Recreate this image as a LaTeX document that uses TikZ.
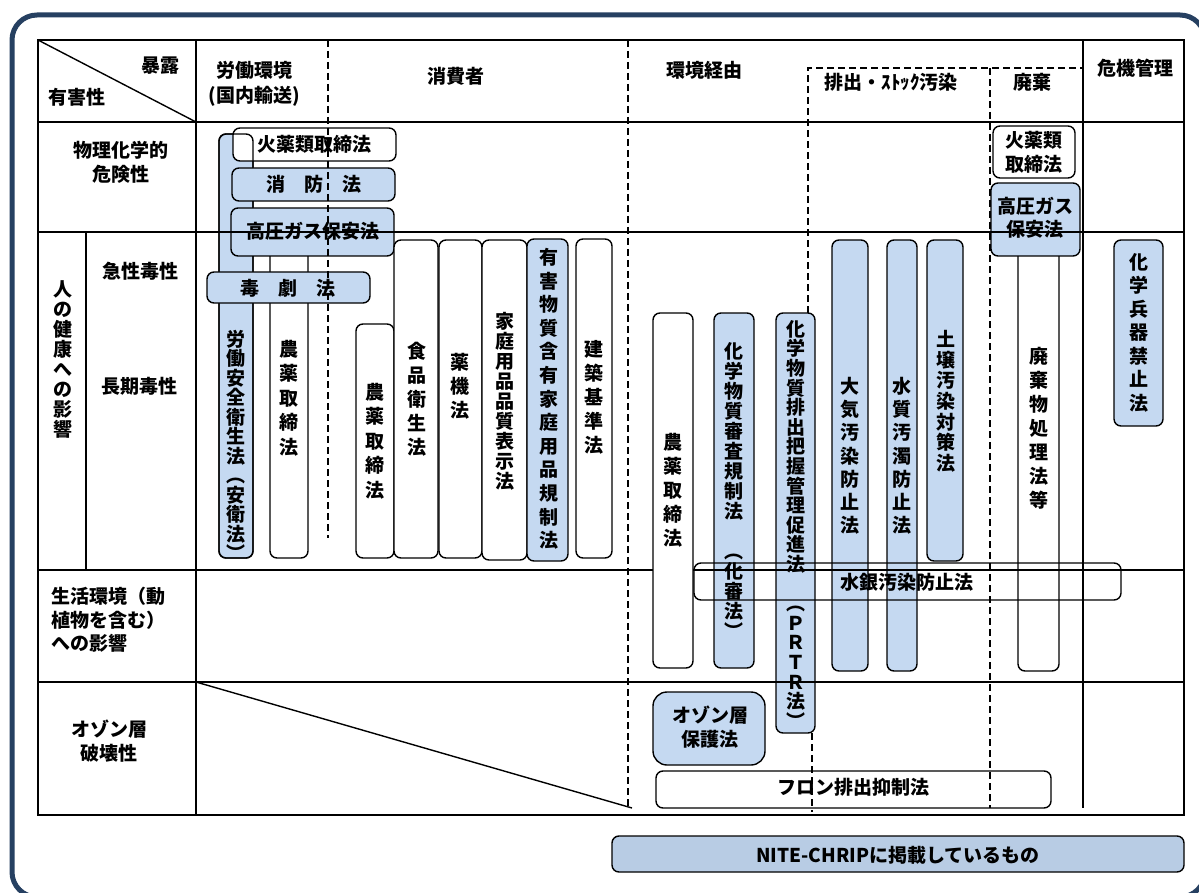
\documentclass[tikz,border=0pt]{standalone}
\usepackage{fontspec}
\setmainfont{Noto Sans CJK JP}
\definecolor{lawblue}{RGB}{197,217,241}
\definecolor{legendblue}{RGB}{184,204,228}
\definecolor{framecol}{RGB}{38,64,97}
\newcommand{\vsetup}[1]{\fontsize{19}{#1}\selectfont\bfseries\lineskiplimit=-30pt\relax\lineskip=0pt\relax}
\begin{document}
\begin{tikzpicture}[x=1pt,y=-1pt,
  every node/.style={font=\fontsize{19}{23}\selectfont\bfseries, inner sep=0pt},
  vt/.style={align=center, anchor=north, font=\vsetup{#1}},
  box/.style={draw=black, line width=1.4pt, rounded corners=7pt, fill=white},
  bbox/.style={box, fill=lawblue},
  outl/.style={draw=black, line width=1.4pt, rounded corners=7pt},
  grid/.style={line width=1.4pt},
  dline/.style={line width=1.3pt, dash pattern=on 7pt off 4pt},
]
\useasboundingbox (0,0) rectangle (1199,893);
\clip (0,0) rectangle (1199,893);
\fill[white] (0,0) rectangle (1199,893);
% frame
\draw[line width=5pt, framecol, rounded corners=25pt] (12,15) rectangle (1205,897);

% ---- labour boxes
\draw[bbox] (219,134) rectangle (253,558);
\draw[box] (270,240) rectangle (308,558);
\draw[box] (233,128) rectangle (396,161);
\draw[outl] (219,134) rectangle (253,558);
\draw[bbox] (232,168) rectangle (395,201);
\draw[bbox] (231,208) rectangle (394,256);
\draw[bbox] (207,272) rectangle (370,303);

% ---- consumer boxes
\draw[box] (356,324) rectangle (394,558);
\draw[box] (394,240) rectangle (438,558);
\draw[box] (439,240) rectangle (482,558);
\draw[box] (482,240) rectangle (527,560);
\draw[bbox] (527,239) rectangle (568,561);
\draw[box] (576,239) rectangle (612,558);

% ---- environment boxes
\draw[box] (653,313) rectangle (693,668);
\fill[white, rounded corners=7pt] (694,563) rectangle (1121,600);
\draw[bbox] (714,313) rectangle (754,668);
\draw[bbox] (776,313) rectangle (815,733);
\draw[bbox] (832,240) rectangle (868,671);
\draw[bbox] (887,240) rectangle (917,671);
\draw[bbox] (927,240) rectangle (963,561);

% ---- waste / crisis boxes
\draw[box] (1018,245) rectangle (1059,671);
\draw[box] (993,126) rectangle (1075,178);
\draw[bbox] (991,183) rectangle (1080,256);
\draw[bbox] (1114,240) rectangle (1163,426);

% ---- ozone boxes
\draw[bbox, rounded corners=14pt] (653,692) rectangle (765,765);
\draw[box] (656,771) rectangle (1051,808);

% ---- legend
\draw[box, fill=legendblue] (612,836) rectangle (1184,872);

% ---- grid
\draw[grid] (38,40) rectangle (1184,815);
\draw[grid] (38,122) -- (1184,122);
\draw[grid] (38,232) -- (1184,232);
\draw[grid] (38,570) -- (653,570) (693,570) -- (1184,570);
\draw[grid] (38,682) -- (1184,682);
\draw[grid] (196,40) -- (196,815);
\draw[grid] (86,232) -- (86,570);
\draw[grid] (1083,40) -- (1083,808);
\draw[grid] (38,40) -- (196,122);
\draw[grid] (196,682) -- (632,808);
\draw[dline] (328,40) -- (328,538);
\draw[dline] (628,40) -- (628,808);
\draw[dline] (808,313) -- (808,68) -- (1082,68);
\draw[dline] (812,733) -- (812,812);
\draw[dline] (990,68) -- (990,808);

% mercury box outline on top
\draw[outl] (694,563) rectangle (1121,600);

% ---- header texts
\node (hBakuro) at (160,66) {暴露};
\node (hYugai) at (77,97) {有害性};
\node (hRoudouA) at (254,70) {労働環境};
\node (hRoudouB) at (254,96) {(国内輸送)};
\node (hShouhi) at (456,76) {消費者};
\node (hKankyo) at (704,70) {環境経由};
\node (hHaishutsu) at (891,82) {排出・ｽﾄｯｸ汚染};
\node (hHaiki) at (1032,82) {廃棄};
\node (hKiki) at (1135,68) {危機管理};

% ---- row header texts
\node (rButsuriA) at (121,150) {物理化学的};
\node (rButsuriB) at (121,174) {危険性};
\node[vt=20] (rHito) at (63,280) {人\\の\\健\\康\\へ\\の\\影\\響};
\node (rKyusei) at (140,271) {急性毒性};
\node (rChoki) at (139,386) {長期毒性};
\node[anchor=west] (rSeikatsuA) at (51,596) {生活環境（動};
\node[anchor=west] (rSeikatsuB) at (51,620) {植物を含む）};
\node[anchor=west] (rSeikatsuC) at (51,643) {への影響};
\node (rOzoneA) at (109,729) {オゾン層};
\node (rOzoneB) at (109,753) {破壊性};

% ---- law texts
\node (lKayaku) at (314,144) {火薬類取締法};
\node (lShobo) at (314,184) {消　防　法};
\node (lKoatsu) at (313,231) {高圧ガス保安法};
\node (lDokugeki) at (288,288) {毒　劇　法};
\node[vt=19.5] (lAnei) at (236,330) {労\\働\\安\\全\\衛\\生\\法\\︵\\安\\衛\\法\\︶};
\node[vt=24.5] (lNoyakuA) at (289,340) {農\\薬\\取\\締\\法};
\node[vt=24.5] (lNoyakuB) at (375,383) {農\\薬\\取\\締\\法};
\node[vt=24] (lShokuhin) at (417,342) {食\\品\\衛\\生\\法};
\node[vt=24] (lYakki) at (460,353) {薬\\機\\法};
\node[vt=20] (lKatei) at (505,312) {家\\庭\\用\\品\\品\\質\\表\\示\\法};
\node[vt=23.6] (lYugai) at (549,248) {有\\害\\物\\質\\含\\有\\家\\庭\\用\\品\\規\\制\\法};
\node[vt=24] (lKenchiku) at (594,340) {建\\築\\基\\準\\法};
\node[vt=24] (lNoyakuC) at (673,433) {農\\薬\\取\\締\\法};
\node[vt=20] (lKashin) at (734,342) {化\\学\\物\\質\\審\\査\\規\\制\\法\\　\\︵\\化\\審\\法\\︶};
\node[vt=19.6] (lPRTR) at (796,320) {化\\学\\物\\質\\排\\出\\把\\握\\管\\理\\促\\進\\法\\　\\︵\\Ｐ\\Ｒ\\Ｔ\\Ｒ\\法\\︶};
\node[vt=23.2] (lTaiki) at (850,377) {大\\気\\汚\\染\\防\\止\\法};
\node[vt=23.2] (lSuishitsu) at (902,377) {水\\質\\汚\\濁\\防\\止\\法};
\node[vt=20.7] (lDojo) at (946,330) {土\\壌\\汚\\染\\対\\策\\法};
\node (lSuigin) at (907,582) {水銀汚染防止法};
\node (lKayakuWA) at (1034,140) {火薬類};
\node (lKayakuWB) at (1034,164) {取締法};
\node (lKoatsuWA) at (1035,206) {高圧ガス};
\node (lKoatsuWB) at (1035,229) {保安法};
\node[vt=24] (lHaikibutsu) at (1039,347) {廃\\棄\\物\\処\\理\\法\\等};
\node[vt=23.5] (lKagaku) at (1139,253) {化\\学\\兵\\器\\禁\\止\\法};
\node (lOzoneA) at (710,715) {オゾン層};
\node (lOzoneB) at (710,739) {保護法};
\node (lFron) at (853,787) {フロン排出抑制法};
\node (legend) at (898,855) {NITE-CHRIPに掲載しているもの};
\end{tikzpicture}
\end{document}
